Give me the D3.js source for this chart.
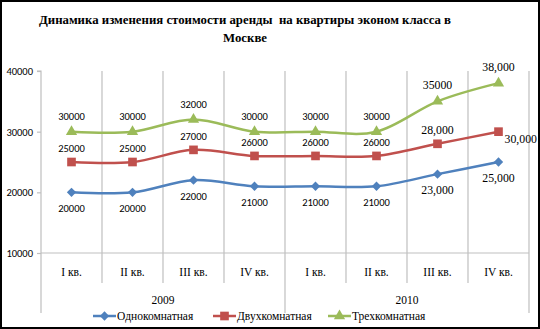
<!DOCTYPE html>
<html>
<head>
<meta charset="utf-8">
<script src="https://cdn.jsdelivr.net/npm/d3@7"></script>
<style>
  html, body { margin: 0; padding: 0; background: #fff; }
  svg { display: block; }
</style>
</head>
<body>
<svg id="chart" width="540" height="329"></svg>
<script>
// Quarters and years along the bottom
const quarters = ["I кв.", "II кв.", "III кв.", "IV кв.", "I кв.", "II кв.", "III кв.", "IV кв."];
const years = ["2009", "2010"];

// Rent per apartment type, roubles per month
const oneRoom = [20000, 20000, 22000, 21000, 21000, 21000, 23000, 25000];
const twoRoom = [25000, 25000, 27000, 26000, 26000, 26000, 28000, 30000];
const threeRoom = [30000, 30000, 32000, 30000, 30000, 30000, 35000, 38000];

// Value labels as printed next to the points
const oneRoomLabels = ["20000", "20000", "22000", "21000", "21000", "21000", "23,000", "25,000"];
const twoRoomLabels = ["25000", "25000", "27000", "26000", "26000", "26000", "28,000", "30,000"];
const threeRoomLabels = ["30000", "30000", "32000", "30000", "30000", "30000", "35000", "38,000"];

const yTicks = [10000, 20000, 30000, 40000];
const seriesNames = ["Однокомнатная", "Двухкомнатная", "Трехкомнатная"];

const sans = "Carlito, 'Liberation Sans', Arial, sans-serif";
const serif = "'Liberation Serif', 'Times New Roman', serif";

const svg = d3.select("#chart");
const W = 540, H = 329;

// outer frame
svg.append("rect").attr("x", 1).attr("y", 1).attr("width", W - 2).attr("height", H - 2)
  .attr("fill", "#fff").attr("stroke", "#000").attr("stroke-width", 2);

// title
const title = svg.append("text").attr("text-anchor", "middle")
  .attr("font-family", serif).attr("font-weight", "bold").attr("font-size", 12.8).attr("fill", "#000")
  .attr("xml:space", "preserve").style("white-space", "pre");
title.append("tspan").attr("x", 245).attr("y", 24).text("Динамика изменения стоимости аренды  на квартиры эконом класса в");
title.append("tspan").attr("x", 245).attr("y", 42).text("Москве");

const plotLeft = 41, plotRight = 529, plotTop = 71, plotBottom = 253;

const x = d3.scaleBand().domain(d3.range(quarters.length)).range([plotLeft, plotRight]).padding(0);
const y = d3.scaleLinear().domain([10000, 40000]).range([plotBottom, plotTop]);
const cx = i => x(i) + x.bandwidth() / 2;

const grid = svg.append("g").attr("stroke", "#bfbfbf").attr("stroke-width", 1.2);

// vertical category dividers; year boundaries run down through the year row
d3.range(1, quarters.length + 1).forEach(i => {
  const xp = i < quarters.length ? x(i) : plotRight;
  const yearEdge = (i === 4 || i === quarters.length);
  grid.append("line").attr("x1", xp).attr("x2", xp)
    .attr("y1", plotTop).attr("y2", yearEdge ? 313 : 283);
});

// horizontal axis line at the bottom of the value range
grid.append("line").attr("x1", plotLeft).attr("x2", plotRight).attr("y1", plotBottom).attr("y2", plotBottom);

// y axis
const yAxis = d3.axisLeft(y).tickValues(yTicks).tickSize(4).tickFormat(d3.format("d"));
const yg = svg.append("g").attr("transform", `translate(${plotLeft},0)`).call(yAxis);
yg.select(".domain").attr("stroke", "#bfbfbf").attr("stroke-width", 1.2)
  .attr("d", `M-4,${plotTop}H0V313`);
yg.selectAll(".tick line").attr("stroke", "#bfbfbf").attr("stroke-width", 1.2);
yg.selectAll(".tick text").attr("font-family", sans).attr("font-size", 10.5).attr("fill", "#000").attr("x", -8);

// category labels
svg.append("g").selectAll("text").data(quarters).join("text")
  .attr("x", (d, i) => cx(i)).attr("y", 276).attr("text-anchor", "middle")
  .attr("font-family", serif).attr("font-size", 11.5).attr("fill", "#000").text(d => d);

// year labels
svg.append("g").selectAll("text").data(years).join("text")
  .attr("x", (d, i) => (x(i * 4) + x(i * 4 + 3) + x.bandwidth()) / 2).attr("y", 304)
  .attr("text-anchor", "middle").attr("font-family", serif).attr("font-size", 11.5).attr("fill", "#000").text(d => d);

const line = d3.line().x((d, i) => cx(i)).y(d => y(d)).curve(d3.curveCardinal.tension(0));

const symDiamond = d3.symbol().type(d3.symbolDiamond2).size(55);
const symSquare = d3.symbol().type(d3.symbolSquare).size(75);
const symTriangle = d3.symbol().type(d3.symbolTriangle).size(55);

const series = [
  { name: seriesNames[0], values: oneRoom, labels: oneRoomLabels, color: "#4f81bd", sym: symDiamond },
  { name: seriesNames[1], values: twoRoom, labels: twoRoomLabels, color: "#c0504d", sym: symSquare },
  { name: seriesNames[2], values: threeRoom, labels: threeRoomLabels, color: "#9bbb59", sym: symTriangle }
];

series.forEach(s => {
  const g = svg.append("g");
  g.append("path").attr("d", line(s.values)).attr("fill", "none")
    .attr("stroke", s.color).attr("stroke-width", 2.5).attr("stroke-linejoin", "round");
  g.selectAll("path.m").data(s.values).join("path").attr("class", "m")
    .attr("transform", (d, i) => `translate(${cx(i)},${y(d)})`)
    .attr("d", s.sym()).attr("fill", s.color);
});

// value labels: position relative to each point
function placeLabels(s, place) {
  svg.append("g").selectAll("text").data(s.values).join("text")
    .each(function (d, i) {
      const p = place(i);
      const isSerif = s.labels[i].includes(",") || s.labels[i] === "35000";
      d3.select(this)
        .attr("x", cx(i) + p.dx).attr("y", y(d) + p.dy)
        .attr("text-anchor", p.anchor || "middle")
        .attr("font-family", isSerif ? serif : sans)
        .attr("font-size", isSerif ? 11.8 : 10.5)
        .attr("fill", "#000")
        .text(s.labels[i]);
    });
}

placeLabels(series[0], i => ({ dx: 0, dy: 20 }));
placeLabels(series[1], i => i === 7 ? { dx: 6, dy: 11, anchor: "start" } : { dx: 0, dy: -10 });
placeLabels(series[2], i => ({ dx: 0, dy: -12 }));

// legend
const legend = svg.append("g");
const legendX = [93, 213, 328];
series.forEach((s, i) => {
  const lg = legend.append("g").attr("transform", `translate(${legendX[i]},316)`);
  lg.append("line").attr("x1", 0).attr("x2", 23).attr("y1", 0).attr("y2", 0)
    .attr("stroke", s.color).attr("stroke-width", 2.5);
  lg.append("path").attr("transform", "translate(11.5,0)").attr("d", s.sym()).attr("fill", s.color);
  lg.append("text").attr("x", 24).attr("y", 4).attr("font-family", serif).attr("font-size", 11.5)
    .attr("fill", "#000").text(s.name);
});
</script>
</body>
</html>
